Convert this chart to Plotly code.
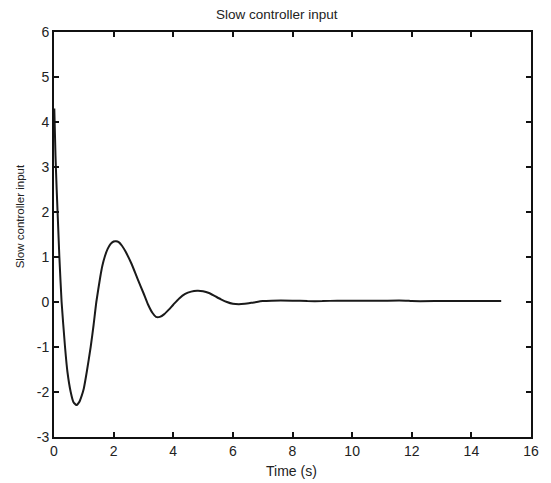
import plotly.graph_objects as go

time_s = [0.01, 0.05, 0.09, 0.12, 0.18, 0.255, 0.37, 0.45, 0.56, 0.65, 0.75, 0.85, 0.93,
          1.0, 1.1, 1.23, 1.33, 1.42, 1.55, 1.62, 1.7, 1.8, 1.9, 2.0, 2.08, 2.17, 2.28, 2.4,
          2.6, 2.8, 3.0, 3.15, 3.3, 3.42, 3.55, 3.7, 3.85, 4.0, 4.2, 4.4, 4.6, 4.8, 5.0,
          5.2, 5.4, 5.6, 5.8, 6.0, 6.2, 6.4, 6.7, 7.0, 7.3, 8.0, 8.5, 9.0, 9.5, 10.0,
          11.0, 11.8, 12.0, 13.0, 14.0, 15.0]
controller_input = [4.3, 3.25, 2.5, 2.0, 1.0, 0.0, -1.0, -1.55, -2.0, -2.22, -2.29, -2.22, -2.08,
                    -1.92, -1.55, -1.0, -0.5, 0.0, 0.55, 0.8, 1.0, 1.18, 1.29, 1.345, 1.35, 1.33, 1.25, 1.12,
                    0.85, 0.52, 0.2, -0.05, -0.24, -0.33, -0.33, -0.27, -0.17, -0.06, 0.08, 0.18, 0.23, 0.25, 0.24,
                    0.2, 0.13, 0.06, 0.0, -0.04, -0.05, -0.04, -0.01, 0.02, 0.03, 0.03, 0.02, 0.02, 0.03, 0.03,
                    0.03, 0.03, 0.02, 0.02, 0.02, 0.02]

x_ticks = [0, 2, 4, 6, 8, 10, 12, 14, 16]
y_ticks = [-3, -2, -1, 0, 1, 2, 3, 4, 5, 6]

family = "Liberation Sans, Arial, sans-serif"
tick_font = dict(family=family, size=14, color="#222222")

fig = go.Figure()
fig.add_trace(go.Scatter(x=time_s, y=controller_input, mode="lines",
                         line=dict(color="#1a1a1a", width=2, shape="spline", smoothing=0.5),
                         showlegend=False))

axis_common = dict(showline=True, linecolor="#111111", linewidth=2, mirror="ticks",
                   ticks="inside", ticklen=5, tickwidth=2, tickcolor="#111111",
                   showgrid=False, zeroline=False, tickfont=tick_font)

fig.update_layout(
    width=551, height=483,
    margin=dict(l=54, r=15, t=32, b=46),
    paper_bgcolor="white", plot_bgcolor="white",
    xaxis=dict(range=[0, 16], tickvals=x_ticks, ticktext=[str(v) for v in x_ticks], **axis_common),
    yaxis=dict(range=[-3, 6], tickvals=y_ticks, ticktext=[str(v) for v in y_ticks], **axis_common),
    annotations=[
        dict(text="Slow controller input", xref="paper", yref="paper",
             x=(279 - 54) / 482, y=(437 - 15) / 405, xanchor="center", yanchor="middle",
             showarrow=False, font=dict(family=family, size=13.5, color="#222222")),
        dict(text="Time (s)", xref="paper", yref="paper",
             x=(293.5 - 54) / 482, y=(437 - 471) / 405, xanchor="center", yanchor="middle",
             showarrow=False, font=dict(family=family, size=14, color="#222222")),
        dict(text="Slow controller input", xref="paper", yref="paper",
             x=(20 - 54) / 482, y=(437 - 216) / 405, xanchor="center", yanchor="middle",
             textangle=-90, showarrow=False, font=dict(family=family, size=11.5, color="#222222")),
    ],
)

fig.write_html("out.html")
